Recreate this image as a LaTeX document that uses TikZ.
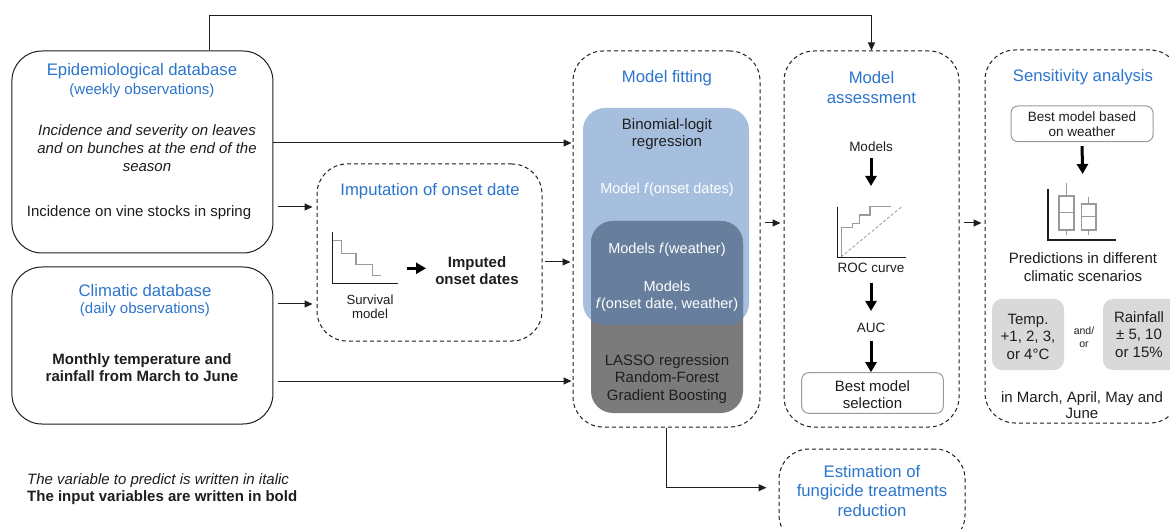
\documentclass[tikz,border=0pt]{standalone}
\usepackage{fontspec}
\setmainfont{Liberation Sans}
\usetikzlibrary{arrows.meta,calc}
\definecolor{tblue}{RGB}{44,117,204}
\definecolor{lblue}{HTML}{A7BFDE}
\definecolor{dblue}{HTML}{677F9D}
\definecolor{mgray}{HTML}{7B7B7B}
\definecolor{lgray}{HTML}{D9D9D9}
\definecolor{pgray}{HTML}{9A9A9A}
\definecolor{ink}{HTML}{1E1E1E}
\begin{document}
\begin{tikzpicture}[x=1pt,y=-1pt,
  solidbox/.style={draw=ink, line width=1pt, rounded corners=30pt, inner sep=0},
  dbox/.style={draw=ink, line width=1pt, dash pattern=on 4pt off 3pt, rounded corners=30pt, inner sep=0},
  ttl/.style={text=tblue, font=\fontsize{16.7}{19.5}\selectfont, align=center, inner sep=0},
  sub/.style={text=tblue, font=\fontsize{15}{18}\selectfont, align=center, inner sep=0},
  txt/.style={text=ink, font=\fontsize{15}{17.5}\selectfont, align=center, inner sep=0},
  wtxt/.style={text=white, font=\fontsize{14.5}{16.5}\selectfont, align=center, inner sep=0},
  sml/.style={text=ink, font=\fontsize{13.5}{15}\selectfont, align=center, inner sep=0},
  arr/.style={-{Triangle[length=8pt,width=7pt]}, line width=1pt, draw=ink},
  bigarr/.style={-{Triangle[length=10pt,width=11pt]}, line width=3pt, draw=black},
  plotax/.style={line width=1.2pt, draw=ink},
  plotln/.style={line width=1.1pt, draw=pgray},
  selbox/.style={draw=pgray, line width=1pt, rounded corners=7pt, fill=white, inner sep=0},
  scenbox/.style={fill=lgray, rounded corners=10pt, inner sep=0}
]
\clip (0,0) rectangle (1170,529);
\fill[white] (0,0) rectangle (1170,529);

% ---------- main boxes ----------
\node[solidbox, minimum width=261pt, minimum height=202pt] (epi) at (142.4,152) {};
\node[solidbox, minimum width=261pt, minimum height=157pt] (clim) at (142.4,345.5) {};
\node[dbox, minimum width=225pt, minimum height=177pt] (imp) at (429.5,252.5) {};
\node[dbox, minimum width=187pt, minimum height=376pt] (fit) at (666.5,239) {};
\node[dbox, minimum width=175pt, minimum height=376pt] (assess) at (871.5,239) {};
\node[dbox, minimum width=195pt, minimum height=373pt] (sens) at (1082.5,236.5) {};
\node[dbox, minimum width=186pt, minimum height=96pt] (est) at (872,497) {};

% ---------- epidemiological database ----------
\node[ttl] (epititle) at (142,71) {Epidemiological database};
\node[sub] (episub) at (142,91) {(weekly observations)};
\node[txt, font=\fontsize{15}{18}\selectfont\itshape] (epiit) at (147,148) {Incidence and severity on leaves\\and on bunches at the end of the\\season};
\node[txt] (epispring) at (139,213) {Incidence on vine stocks in spring};

% ---------- climatic database ----------
\node[ttl] (climtitle) at (145,291) {Climatic database};
\node[sub] (climsub) at (145,310) {(daily observations)};
\node[txt, font=\fontsize{15}{17}\selectfont\bfseries] (climbold) at (142,367.5) {Monthly temperature and\\rainfall from March to June};

% ---------- footnote ----------
\node[txt, anchor=west, font=\fontsize{15}{17}\selectfont\itshape] (noteit) at (27,481) {The variable to predict is written in italic};
\node[txt, anchor=west, font=\fontsize{15}{17}\selectfont\bfseries] (notebf) at (27,498) {The input variables are written in bold};

% ---------- imputation ----------
\node[ttl] (imptitle) at (430,191) {Imputation of onset date};
\draw[plotln] (333,240.7) -- (341.7,240.7) -- (341.7,253.3) -- (356,253.3) -- (356,264.3) -- (372.3,264.3) -- (372.3,275.7) -- (380.7,275.7);
\draw[plotax] (332.7,232.3) -- (332.7,283.3) -- (398.3,283.3);
\node[sml, font=\fontsize{13.2}{14}\selectfont] (survlbl) at (370,307) {Survival\\model};
\coordinate (survA) at (407,268.3);
\coordinate (survB) at (426,268.3);
\draw[bigarr] (survA) -- (survB);
\node[txt, font=\fontsize{15}{17}\selectfont\bfseries] (imputed) at (477,270.5) {Imputed\\onset dates};

% ---------- model fitting ----------
\node[ttl] (fittitle) at (667,78) {Model fitting};
\fill[lblue, rounded corners=22pt] (583,108) rectangle (749,325);
\fill[mgray, rounded corners=22pt] (591,221) rectangle (743,413);
\begin{scope}
  \clip[rounded corners=22pt] (583,108) rectangle (749,325);
  \fill[dblue, rounded corners=22pt] (591,221) rectangle (743,413);
\end{scope}
\node[txt, font=\fontsize{15}{16.5}\selectfont] (binom) at (667,134) {Binomial-logit\\regression};
\node[wtxt] (monset) at (667,190) {Model \textit{f}(onset dates)};
\node[wtxt] (mweather) at (667,250) {Models \textit{f}(weather)};
\node[wtxt] (mboth) at (667,296) {Models\\\textit{f}(onset date, weather)};
\node[txt] (lasso) at (667,379) {LASSO regression\\Random-Forest\\Gradient Boosting};

% ---------- model assessment ----------
\node[ttl] (asstitle) at (871.5,87.5) {Model\\assessment};
\node[sml] (mods) at (871,147) {Models};
\coordinate (modsA) at (871,158);
\coordinate (modsB) at (871,186);
\draw[bigarr] (modsA) -- (modsB);
\draw[plotln] (841.7,257) -- (841.7,227.7) -- (852.7,227.7) -- (852.7,223.3) -- (859.3,223.3) -- (859.3,215) -- (870,215) -- (870,206.7) -- (891,206.7);
\draw[pgray, line width=0.8pt, dash pattern=on 3pt off 2pt] (841,257) -- (901.7,206.7);
\draw[plotax] (837.3,206.7) -- (837.3,257.7) -- (906,257.7);
\node[sml] (roclbl) at (871,268.3) {ROC curve};
\coordinate (rocA) at (871,282.7);
\coordinate (rocB) at (871,311);
\draw[bigarr] (rocA) -- (rocB);
\node[sml] (auc) at (871,328.3) {AUC};
\node[selbox, minimum width=141.6pt, minimum height=40.6pt] (bestsel) at (872.5,393) {};
\node[txt, font=\fontsize{15}{16.7}\selectfont] (bestseltxt) at (872.5,394.3) {Best model\\selection};
\coordinate (aucA) at (871,341);
\draw[bigarr] (aucA) -- ([xshift=-1.5pt]bestsel.north);

% ---------- sensitivity analysis ----------
\node[ttl] (senstitle) at (1083,77) {Sensitivity analysis};
\node[selbox, minimum width=142pt, minimum height=35.7pt] (bestw) at (1082,123.85) {};
\node[sml] (bestwtxt) at (1082,124.5) {Best model based\\on weather};
\coordinate (bwB) at (1082.7,174);
\draw[bigarr] ([yshift=-4pt]bestw.south) -- (bwB);
% boxplots
\draw[plotln] (1066.5,183.3) -- (1066.5,196) (1066.5,230) -- (1066.5,235);
\draw[plotln] (1059,196) rectangle (1074,230);
\draw[plotln] (1059,212.3) -- (1074,212.3);
\draw[plotln] (1088.8,196.7) -- (1088.8,204) (1088.8,230) -- (1088.8,235);
\draw[plotln] (1081.7,204) rectangle (1096,230);
\draw[plotln] (1081.7,216.7) -- (1096,216.7);
\draw[plotax] (1048,189) -- (1048,240) -- (1115.7,240);
\node[txt, font=\fontsize{15}{18}\selectfont] (pred) at (1083,266.7) {Predictions in different\\climatic scenarios};
\node[scenbox, minimum width=72pt, minimum height=71pt] (temp) at (1028,334.5) {};
\node[txt] (temptxt) at (1028,336.7) {Temp.\\+1, 2, 3,\\or 4°C};
\node[sml, font=\fontsize{10.5}{12.5}\selectfont] (andor) at (1084,337) {and/\\or};
\node[scenbox, minimum width=82pt, minimum height=71pt] (rain) at (1144,334.5) {};
\node[txt] (raintxt) at (1139,334.5) {Rainfall\\± 5, 10\\or 15\%};
\node[txt, font=\fontsize{15}{16}\selectfont] (months) at (1082,404.7) {in March, April, May and\\June};

% ---------- estimation ----------
\node[ttl] (esttxt) at (872,490.7) {Estimation of\\fungicide treatments\\reduction};

% ---------- connectors ----------
\coordinate (topx) at (209.6,15.7);
\draw[arr] (topx |- epi.north) -- (topx) -| (assess.north);
\coordinate (y143) at (0,143);
\draw[arr] (epi.east |- y143) -- ([xshift=-1pt]fit.west |- y143);
\coordinate (y207) at (0,207);
\draw[arr] ([xshift=5pt]epi.east |- y207) -- ([xshift=-4pt]imp.west |- y207);
\coordinate (y304) at (0,304);
\draw[arr] ([xshift=5pt]clim.east |- y304) -- ([xshift=-4pt]imp.west |- y304);
\coordinate (y381) at (0,381);
\draw[arr] ([xshift=5pt]clim.east |- y381) -- ([xshift=-1pt]fit.west |- y381);
\coordinate (y262) at (0,262);
\draw[arr] ([xshift=2pt]imp.east |- y262) -- ([xshift=-2pt]fit.west |- y262);
\coordinate (y223) at (0,223);
\draw[arr] ([xshift=4pt]fit.east |- y223) -- ([xshift=-3pt]assess.west |- y223);
\draw[arr] ([xshift=4pt]assess.east |- y223) -- ([xshift=-3pt]sens.west |- y223);
\coordinate (y488) at (0,487.7);
\draw[arr] (fit.south) |- ([xshift=-12pt]est.west |- y488);
\end{tikzpicture}
\end{document}
